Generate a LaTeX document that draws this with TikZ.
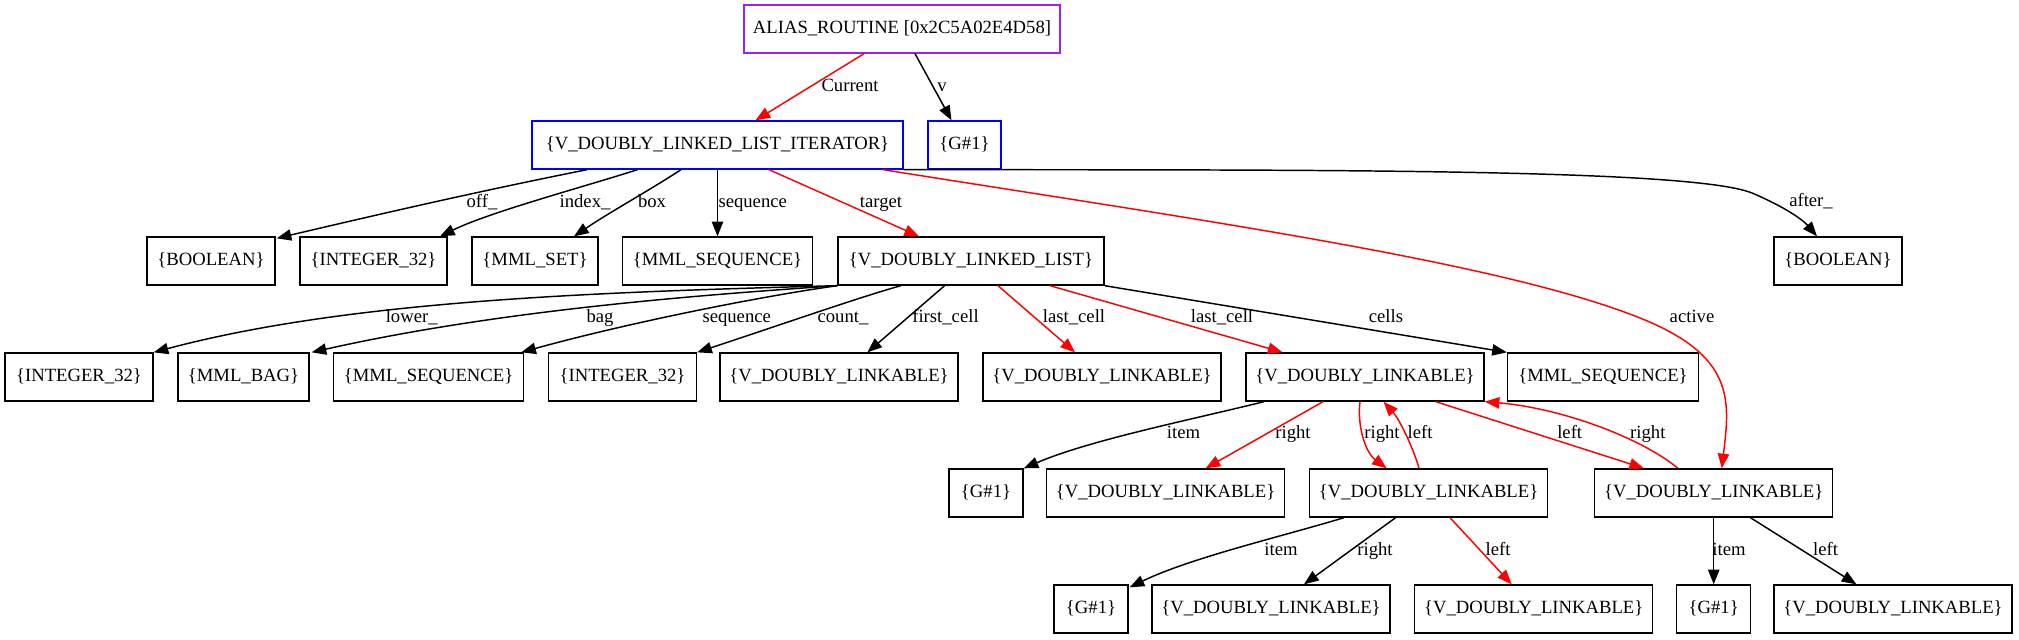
\documentclass[tikz,border=0pt]{standalone}
\usepackage{fontspec}
\setmainfont{Liberation Serif}
\usetikzlibrary{arrows.meta,calc}
\definecolor{gvred}{HTML}{FF0000}
\definecolor{gvblue}{HTML}{0000FF}
\definecolor{gvpurple}{HTML}{A020F0}
\begin{document}
\begin{tikzpicture}[x=0.75pt,y=-0.75pt,
  box/.style={draw, line width=1pt, minimum height=36pt, inner sep=0pt,
    font=\fontsize{14}{16}\selectfont, text height=9.5pt, text depth=3pt},
  bw/.style={minimum width=#1*0.75pt},
  lbl/.style={inner sep=0pt, font=\fontsize{14}{16}\selectfont, text height=9.5pt, text depth=3pt},
  e/.style={line width=1.1pt, -{Triangle[length=11pt,width=8.5pt]}},
  er/.style={e, color=gvred}]
\useasboundingbox (0,0) rectangle (2019,639);

% row 1
\node[box, bw=316, draw=gvpurple] (alias) at (902,29) {ALIAS\_ROUTINE [0x2C5A02E4D58]};
% row 2
\node[box, bw=371, draw=gvblue] (iter) at (717.5,145) {\{V\_DOUBLY\_LINKED\_LIST\_ITERATOR\}};
\node[box, bw=73, draw=gvblue] (g1top) at (964.5,145) {\{G\#1\}};
% row 3
\node[box, bw=128] (bool1) at (211,261) {\{BOOLEAN\}};
\node[box, bw=147] (int1) at (373.5,261) {\{INTEGER\_32\}};
\node[box, bw=126] (mmlset) at (535,261) {\{MML\_SET\}};
\node[box, bw=190] (mmlseq1) at (717.5,261) {\{MML\_SEQUENCE\}};
\node[box, bw=266] (dll) at (971,261) {\{V\_DOUBLY\_LINKED\_LIST\}};
\node[box, bw=128] (bool2) at (1838,261) {\{BOOLEAN\}};
% row 4
\node[box, bw=148] (int2) at (79,377) {\{INTEGER\_32\}};
\node[box, bw=131] (bag) at (243.5,377) {\{MML\_BAG\}};
\node[box, bw=190] (mmlseq2) at (428.6,377) {\{MML\_SEQUENCE\}};
\node[box, bw=148] (int3) at (622.5,377) {\{INTEGER\_32\}};
\node[box, bw=238] (lk1) at (839,377) {\{V\_DOUBLY\_LINKABLE\}};
\node[box, bw=238] (lk2) at (1102,377) {\{V\_DOUBLY\_LINKABLE\}};
\node[box, bw=238] (lk3) at (1365,377) {\{V\_DOUBLY\_LINKABLE\}};
\node[box, bw=191] (mmlseq3) at (1603,377) {\{MML\_SEQUENCE\}};
% row 5
\node[box, bw=74] (g1a) at (986,493) {\{G\#1\}};
\node[box, bw=238] (lk4) at (1165.6,493) {\{V\_DOUBLY\_LINKABLE\}};
\node[box, bw=238] (lk5) at (1428.6,493) {\{V\_DOUBLY\_LINKABLE\}};
\node[box, bw=238] (lk6) at (1713.7,493) {\{V\_DOUBLY\_LINKABLE\}};
% row 6
\node[box, bw=74] (g1b) at (1091,609) {\{G\#1\}};
\node[box, bw=238] (lk7) at (1271,609) {\{V\_DOUBLY\_LINKABLE\}};
\node[box, bw=238] (lk8) at (1533.7,609) {\{V\_DOUBLY\_LINKABLE\}};
\node[box, bw=74] (g1c) at (1713.7,609) {\{G\#1\}};
\node[box, bw=238] (lk9) at (1893,609) {\{V\_DOUBLY\_LINKABLE\}};

% edges from alias
\draw[er] ($(alias.south)+(-38,0)$) -- ($(iter.north)+(38,0)$);
\draw[e] ($(alias.south)+(13,0)$) -- ($(g1top.north)+(-13,0)$);
\node[lbl] (lcur) at (850,87) {Current};
\node[lbl] (lv) at (942,87) {v};

% edges from iterator
\draw[e] ($(iter.south)+(-130.5,0)$) .. controls (480,191) and (380,214) .. ($(bool1.north east)+(1,2)$);
\draw[e] ($(iter.south)+(-80,0)$) .. controls (580,188) and (490,212) .. ($(int1.north)+(66.5,0)$);
\draw[e] ($(iter.south)+(-36.5,0)$) .. controls (650,190) and (610,212) .. ($(mmlset.north)+(39,0)$);
\draw[e] (iter.south) -- (mmlseq1.north);
\draw[er] ($(iter.south)+(51.5,0)$) -- ($(dll.north)+(-52,0)$);
\draw[er] ($(iter.south)+(165.5,0)$) .. controls (1200,220) and (1500,262) .. (1640,318)
   .. controls (1735,356) and (1730,400) .. ($(lk6.north)+(8,0)$);
\draw[e] (iter.south east) .. controls (1300,170) and (1690,168) .. (1752,193)
   .. controls (1785,207) and (1803,220) .. ($(bool2.north)+(-21,0)$);
\node[lbl] (loff) at (482,203) {off\_};
\node[lbl] (lindex) at (585,203) {index\_};
\node[lbl] (lbox) at (652,203) {box};
\node[lbl] (lseq1) at (752.7,203) {sequence};
\node[lbl] (ltarget) at (881,203) {target};
\node[lbl] (lafter) at (1811,202) {after\_};
\node[lbl] (lactive) at (1692,318) {active};

% edges from linked list
\draw[e] (dll.south west) .. controls (600,292) and (350,300) .. (int2.north east);
\draw[e] (dll.south west) .. controls (700,295) and (500,310) .. ($(bag.north east)+(2,0)$);
\draw[e] (dll.south west) .. controls (750,298) and (620,325) .. ($(mmlseq2.north east)+(-3,0)$);
\draw[e] ($(dll.south)+(-70,0)$) .. controls (860,297) and (780,325) .. (int3.north east);
\draw[e] ($(dll.south)+(-26.4,0)$) -- ($(lk1.north)+(28.4,0)$);
\draw[er] ($(dll.south)+(27,0)$) -- ($(lk2.north)+(-27,0)$);
\draw[er] ($(dll.south)+(79,0)$) -- ($(lk3.north)+(-82.4,0)$);
\draw[e] (dll.south east) -- (mmlseq3.north west);
\node[lbl] (llower) at (411.7,318) {lower\_};
\node[lbl] (lbag) at (600,318) {bag};
\node[lbl] (lseq2) at (736.7,318) {sequence};
\node[lbl] (lcount) at (843,318) {count\_};
\node[lbl] (lfirst) at (945.5,318) {first\_cell};
\node[lbl] (llast1) at (1074,318) {last\_cell};
\node[lbl] (llast2) at (1222,318) {last\_cell};
\node[lbl] (lcells) at (1386,318) {cells};

% edges from lk3
\draw[e] ($(lk3.south)+(-101,0)$) .. controls (1190,420) and (1090,440) .. (g1a.north east);
\draw[er] ($(lk3.south)+(-42,0)$) -- ($(lk4.north)+(40,0)$);
\draw[er] ($(lk3.south)+(-5,0)$) .. controls (1357,425) and (1365,452) .. ($(lk5.north)+(-42,0)$);
\draw[er] ($(lk5.north)+(-9.6,0)$) .. controls (1414,450) and (1400,420) .. ($(lk3.south)+(18.5,0)$);
\draw[er] ($(lk3.south)+(70.7,0)$) -- ($(lk6.north)+(-69.7,0)$);
\draw[er] ($(lk6.north)+(-35.7,0)$) .. controls (1640,437) and (1560,408) .. (lk3.south east);
\node[lbl] (litem1) at (1183.5,434) {item};
\node[lbl] (lright1) at (1293,434) {right};
\node[lbl] (lright2) at (1382,434) {right};
\node[lbl] (lleft1) at (1420,434) {left};
\node[lbl] (lleft2) at (1569.7,434) {left};
\node[lbl] (lright3) at (1647.8,434) {right};

% edges from lk5
\draw[e] ($(lk5.south)+(-84.6,0)$) .. controls (1280,537) and (1190,558) .. ($(g1b.north east)+(1,3)$);
\draw[e] ($(lk5.south)+(-33,0)$) -- ($(lk7.north)+(33,0)$);
\draw[er] ($(lk5.south)+(21.4,0)$) -- ($(lk8.north)+(-22,0)$);
\node[lbl] (litem2) at (1281,551) {item};
\node[lbl] (lright4) at (1375,551) {right};
\node[lbl] (lleft3) at (1498,551) {left};

% edges from lk6
\draw[e] (lk6.south) -- (g1c.north);
\draw[e] ($(lk6.south)+(36.7,0)$) -- ($(lk9.north)+(-36.6,0)$);
\node[lbl] (litem3) at (1729,551) {item};
\node[lbl] (lleft4) at (1825.5,551) {left};
\end{tikzpicture}
\end{document}
